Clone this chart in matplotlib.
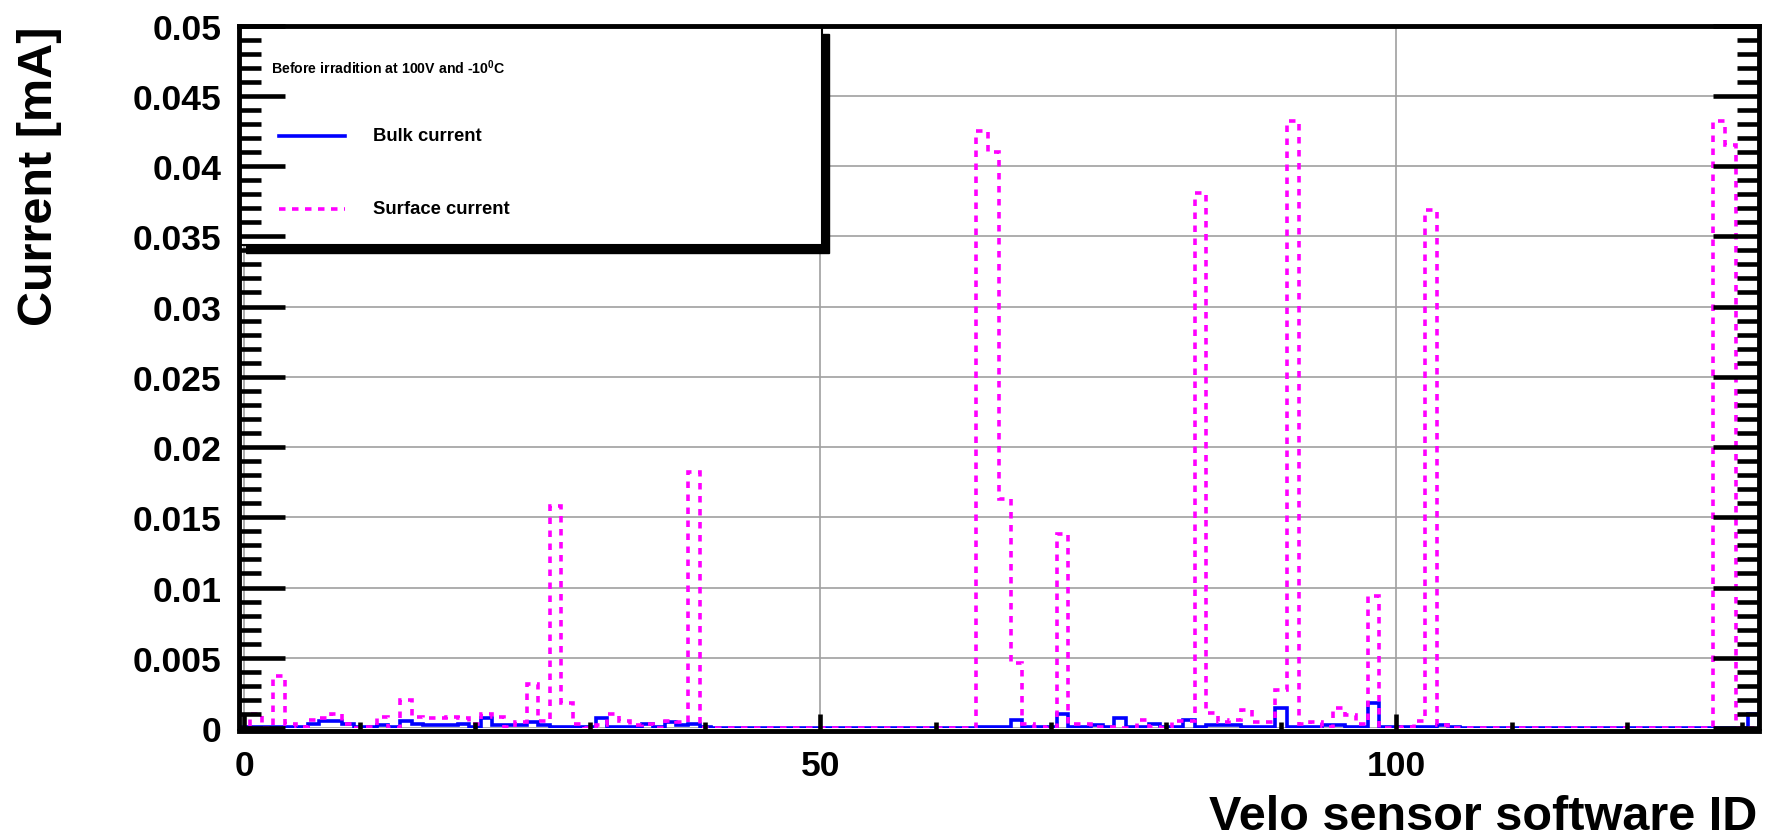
import matplotlib
matplotlib.use("Agg")
import matplotlib.pyplot as plt
import numpy as np
from matplotlib.patches import Rectangle
from matplotlib.lines import Line2D
from matplotlib.ticker import MultipleLocator, FuncFormatter

plt.rcParams['font.family'] = ['Liberation Sans', 'DejaVu Sans']
plt.rcParams['font.weight'] = 'bold'
plt.rcParams['axes.labelweight'] = 'bold'
plt.rcParams['mathtext.fontset'] = 'custom'
plt.rcParams['mathtext.rm'] = 'Liberation Sans:bold'
plt.rcParams['mathtext.it'] = 'Liberation Sans:bold'
plt.rcParams['mathtext.bf'] = 'Liberation Sans:bold'

# currents in mA, per Velo sensor software ID
# R sensors 0-41
bulk_r = [0.0001, 0.0001, 0.0001, 0.0001, 0.0001, 0.0001, 0.0003, 0.0005, 0.0005, 0.0003,
          0.0001, 0.0001, 0.0002, 0.0001, 0.0005, 0.0003, 0.0002, 0.0002, 0.0002, 0.0003,
          0.0001, 0.0007, 0.0002, 0.0002, 0.0002, 0.0004, 0.0002, 0.0001, 0.0001, 0.0001,
          0.0001, 0.0007, 0.0001, 0.0001, 0.0001, 0.0003, 0.0001, 0.00045, 0.0002, 0.0003,
          0.0001, 0.0]
surf_r = [0.0, 0.0010, 0.0, 0.0037, 0.0003, 0.0001, 0.0006, 0.0007, 0.0010, 0.0003,
          0.0, 0.0001, 0.0008, 0.0, 0.0020, 0.0008, 0.0007, 0.0007, 0.0008, 0.0007,
          0.0003, 0.0010, 0.0008, 0.0001, 0.0004, 0.0031, 0.0005, 0.0158, 0.0018, 0.0003,
          0.0, 0.0002, 0.0010, 0.0005, 0.0002, 0.0003, 0.0, 0.0005, 0.0004, 0.0182,
          0.0, 0.0]
# Phi sensors 64-105
bulk_phi = [0.0001, 0.0001, 0.0001, 0.0006, 0.0001, 0.0001, 0.0001, 0.0010, 0.0001, 0.0001,
            0.0002, 0.0001, 0.0007, 0.0001, 0.0001, 0.0003, 0.0001, 0.0001, 0.0006, 0.0001,
            0.0002, 0.0002, 0.0002, 0.0001, 0.0001, 0.0001, 0.0014, 0.0001, 0.0001, 0.0001,
            0.0002, 0.0002, 0.0001, 0.0001, 0.0018, 0.0001, 0.0001, 0.0001, 0.0001, 0.0001,
            0.0002, 0.0001]
surf_phi = [0.0425, 0.0410, 0.0163, 0.0046, 0.0003, 0.0001, 0.0, 0.0138, 0.0003, 0.0003,
            0.0001, 0.0001, 0.0, 0.0, 0.0006, 0.0001, 0.0, 0.0005, 0.0005, 0.0381,
            0.0011, 0.0004, 0.0006, 0.0013, 0.0004, 0.0004, 0.0027, 0.0432, 0.0003, 0.0004,
            0.0001, 0.0014, 0.0009, 0.0003, 0.0094, 0.0, 0.0, 0.0001, 0.0005, 0.0369,
            0.0002, 0.0]
# pile-up sensors 128-131
bulk_pu = [0.0, 0.0, 0.0, 0.0010]
surf_pu = [0.0432, 0.0415, 0.0, 0.0]

n_bins = 132
edges = np.arange(n_bins + 1) - 0.5
bulk = np.zeros(n_bins)
surf = np.zeros(n_bins)
bulk[0:42] = bulk_r
bulk[64:106] = bulk_phi
bulk[128:132] = bulk_pu
surf[0:42] = surf_r
surf[64:106] = surf_phi
surf[128:132] = surf_pu

fig = plt.figure(figsize=(17.71, 8.37), dpi=100)
rect = [0.1348, 0.129, 0.8586, 0.8393]
ax = fig.add_axes(rect, zorder=1)

ax.stairs(bulk, edges, color='#0000ff', lw=2.6, zorder=2)
ax.stairs(surf, edges, color='#ff00ff', lw=2.6, linestyle=(0, (1.8, 1.8)), zorder=2.1)

ax.set_xlim(-0.5, 131.5)
ax.set_ylim(0, 0.05)
ax.xaxis.set_major_locator(MultipleLocator(50))
ax.xaxis.set_minor_locator(MultipleLocator(10))
ax.yaxis.set_major_locator(MultipleLocator(0.005))
ax.yaxis.set_minor_locator(MultipleLocator(0.001))
ax.grid(True, which='major', color='#a0a0a0', lw=1.2)
ax.tick_params(which='both', length=0, labelleft=False, labelbottom=False)
for s in ax.spines.values():
    s.set_visible(False)

# legend box with shadow
ax.add_patch(Rectangle((0.0046, 0.6761), 0.3836, 0.3125, transform=ax.transAxes,
                       facecolor='black', edgecolor='black', zorder=3))
ax.add_patch(Rectangle((0.0, 0.6875), 0.3836, 0.3125, transform=ax.transAxes,
                       facecolor='white', edgecolor='black', lw=1.5, zorder=3.1))
ax.text(0.0212, 0.9412, 'Before irradition at 100V and -10$^{0}$C', transform=ax.transAxes,
        fontsize=10.2, va='center', ha='left', zorder=4)
ax.add_line(Line2D([0.0265, 0.0696], [0.8431, 0.8431], transform=ax.transAxes,
                   color='#0000ff', lw=2.6, zorder=4))
ax.text(0.0881, 0.8431, 'Bulk current', transform=ax.transAxes,
        fontsize=13.3, va='center', ha='left', zorder=4)
ax.add_line(Line2D([0.0265, 0.0696], [0.7395, 0.7395], transform=ax.transAxes,
                   color='#ff00ff', lw=2.6, linestyle=(0, (1.8, 1.8)), zorder=4))
ax.text(0.0881, 0.7395, 'Surface current', transform=ax.transAxes,
        fontsize=13.3, va='center', ha='left', zorder=4)

# frame, ticks and labels drawn on top of everything
axt = fig.add_axes(rect, sharex=ax, sharey=ax, zorder=2)
axt.patch.set_visible(False)
axt.yaxis.set_major_formatter(FuncFormatter(lambda v, p: f"{v:g}"))
axt.tick_params(axis='both', which='both', direction='in', top=False, right=True,
                width=3.3, colors='black')
axt.tick_params(axis='y', which='major', length=33, labelsize=25.5, pad=12.6)
axt.tick_params(axis='y', which='minor', length=16)
axt.tick_params(axis='x', which='major', length=12.5, labelsize=25.5, pad=13)
axt.tick_params(axis='x', which='minor', length=6.5)
for s in axt.spines.values():
    s.set_linewidth(3.5)
axt.spines['bottom'].set_position(('outward', 2))

axt.set_ylabel('Current [mA]', fontsize=35, loc='top')
axt.yaxis.set_label_coords(-0.1165, 1.0)
axt.set_xlabel('Velo sensor software ID', fontsize=35, loc='right')
axt.xaxis.set_label_coords(0.9985, -0.094)

fig.savefig('out.png', dpi=100)
